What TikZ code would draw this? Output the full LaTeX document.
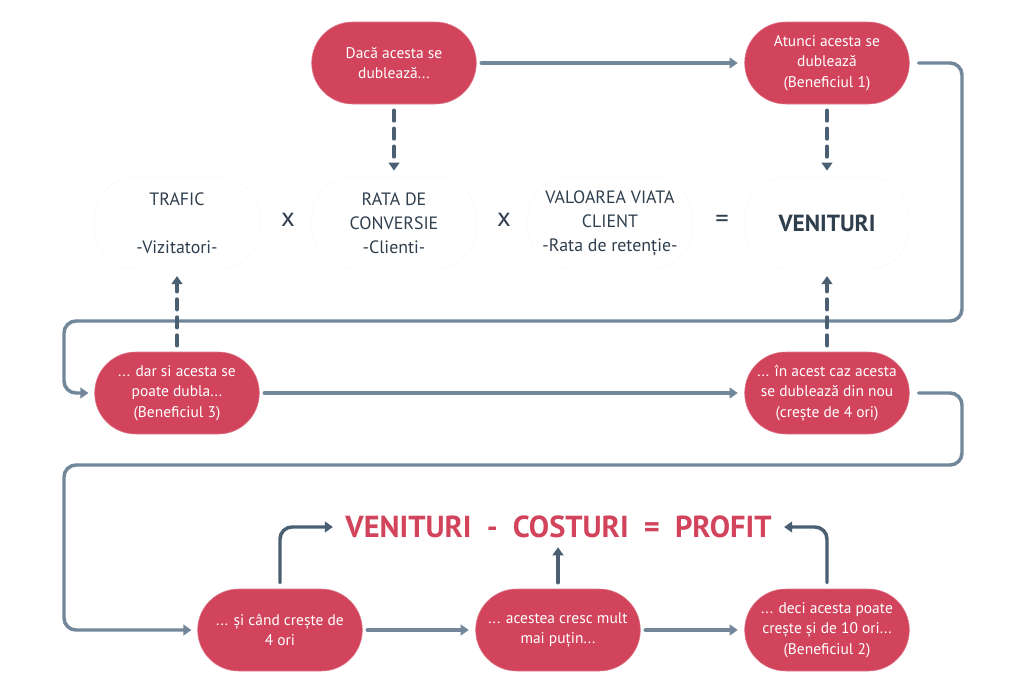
\documentclass[tikz,border=0pt]{standalone}
\usepackage{fontspec}
\setmainfont{PT Sans}
\usetikzlibrary{arrows.meta,calc}
\definecolor{redbox}{HTML}{D2445C}
\definecolor{redtxt}{HTML}{D2445C}
\definecolor{darktxt}{HTML}{2F3F4E}
\definecolor{flowcol}{HTML}{72879A}
\definecolor{dashcol}{HTML}{4A5F72}
\definecolor{ringcol}{HTML}{FAFAFA}
\tikzset{
  pillred/.style={rectangle,rounded corners=30.7pt,minimum width=123.5pt,minimum height=61.5pt,inner sep=0pt,
    fill=redbox,draw=redbox!70!white,line width=.4pt,text=white,align=center,font=\fontsize{11.6}{15.4}\selectfont},
  pillwhite/.style={rectangle,rounded corners=30.7pt,minimum width=123.5pt,minimum height=69pt,inner sep=0pt,
    draw=ringcol,line width=.6pt,text=darktxt,align=center,font=\fontsize{13.4}{18}\selectfont},
  flow/.style={draw=flowcol,line width=2.6pt,line cap=round,rounded corners=9pt,-{Triangle[length=6pt,width=8pt]}},
  dashflow/.style={draw=dashcol,line width=2.6pt,line cap=round,dash pattern=on 8pt off 5.5pt,-{Triangle[length=6pt,width=8pt,sep=0pt]}},
  solidup/.style={draw=dashcol,line width=2.6pt,line cap=round,rounded corners=9pt,-{Triangle[length=6pt,width=8pt]}},
  opsign/.style={text=darktxt,font=\fontsize{20}{20}\selectfont,inner sep=0pt},
}
\begin{document}
\begin{tikzpicture}[x=0.75pt,y=-0.75pt]
\useasboundingbox[fill=white] (0,0) rectangle (1024,693);
% red boxes
\node[pillred] (dublu) at (394,63) {Dacă acesta se\\dublează...};
\node[pillred] (ben1) at (827,63) {Atunci acesta se\\dublează\\(Beneficiul 1)};
\node[pillred] (ben3) at (177,393) {... dar si acesta se\\poate dubla...\\(Beneficiul 3)};
\node[pillred] (nou) at (827,393) {... în acest caz acesta\\se dublează din nou\\(crește de 4 ori)};
\node[pillred] (cand) at (280,630) {... și când crește de\\4 ori};
\node[pillred] (putin) at (558,630) {... acestea cresc mult\\mai puțin...};
\node[pillred] (ben2) at (827,630) {... deci acesta poate\\crește și de 10 ori...\\(Beneficiul 2)};
% white boxes
\node[pillwhite] (trafic) at (177,223) {TRAFIC\\ \\-Vizitatori-};
\node[pillwhite] (rata) at (394,223) {RATA DE\\CONVERSIE\\-Clienti-};
\node[pillwhite] (val) at (610,223) {VALOAREA VIATA\\CLIENT\\-Rata de retenție-};
\node[pillwhite,font=\fontsize{17.5}{18}\selectfont\bfseries] (ven) at (827,223) {VENITURI};
% operators
\node[opsign] (ox1) at (288,220) {x};
\node[opsign] (ox2) at (504,220) {x};
\node[opsign] (oeq) at (722,221) {=};
% formula
\node[text=redtxt,font=\fontsize{22.8}{24}\selectfont\bfseries,inner sep=0pt,minimum width=328pt,minimum height=20pt] (formula) at (558.5,527)
  {VENITURI\hspace{.5em}-\hspace{.5em}COSTURI\hspace{.5em}=\hspace{.5em}PROFIT};
% waypoints
\coordinate (r1) at (962,63);
\coordinate (r2) at (962,321);
\coordinate (l1) at (64,321);
\coordinate (l2) at (64,393);
\coordinate (r3) at (962,393);
\coordinate (r4) at (962,465);
\coordinate (l3) at (64,465);
\coordinate (l4) at (64,630);
% solid flow
\draw[flow,shorten <=3.5pt,shorten >=5pt] (dublu.east) -- (ben1.west);
\draw[flow,shorten <=3pt] ($(ben1.east)+(5,0)$) -- (r1) -- (r2) -- (l1) -- (l2) -- ($(ben3.west)+(-6,0)$);
\draw[flow,shorten <=3.5pt,shorten >=5pt] (ben3.east) -- (nou.west);
\draw[flow,shorten <=3pt] ($(nou.east)+(5,0)$) -- (r3) -- (r4) -- (l3) -- (l4) -- ($(cand.west)+(-6,0)$);
\draw[flow,shorten <=3.5pt,shorten >=5pt] (cand.east) -- (putin.west);
\draw[flow,shorten <=3.5pt,shorten >=5pt] (putin.east) -- (ben2.west);
% dashed
\draw[dashflow,shorten <=4.5pt,shorten >=4.5pt] (dublu.south) -- (rata.north);
\draw[dashflow,shorten <=4.5pt,shorten >=4.5pt] (ben1.south) -- (ven.north);
\draw[dashflow,shorten <=4.5pt,shorten >=5pt] (ben3.north) -- (trafic.south);
\draw[dashflow,shorten <=4.5pt,shorten >=5pt] (nou.north) -- (ven.south);
% to formula
\draw[solidup,shorten <=4.5pt,shorten >=5pt] (cand.north) -- (cand.north |- formula.west) -- (formula.west);
\draw[solidup,shorten <=4.5pt,shorten >=5pt] (putin.north) -- (formula.south -| putin.north);
\draw[solidup,shorten <=4.5pt,shorten >=5pt] (ben2.north) -- (ben2.north |- formula.east) -- (formula.east);
\end{tikzpicture}
\end{document}
